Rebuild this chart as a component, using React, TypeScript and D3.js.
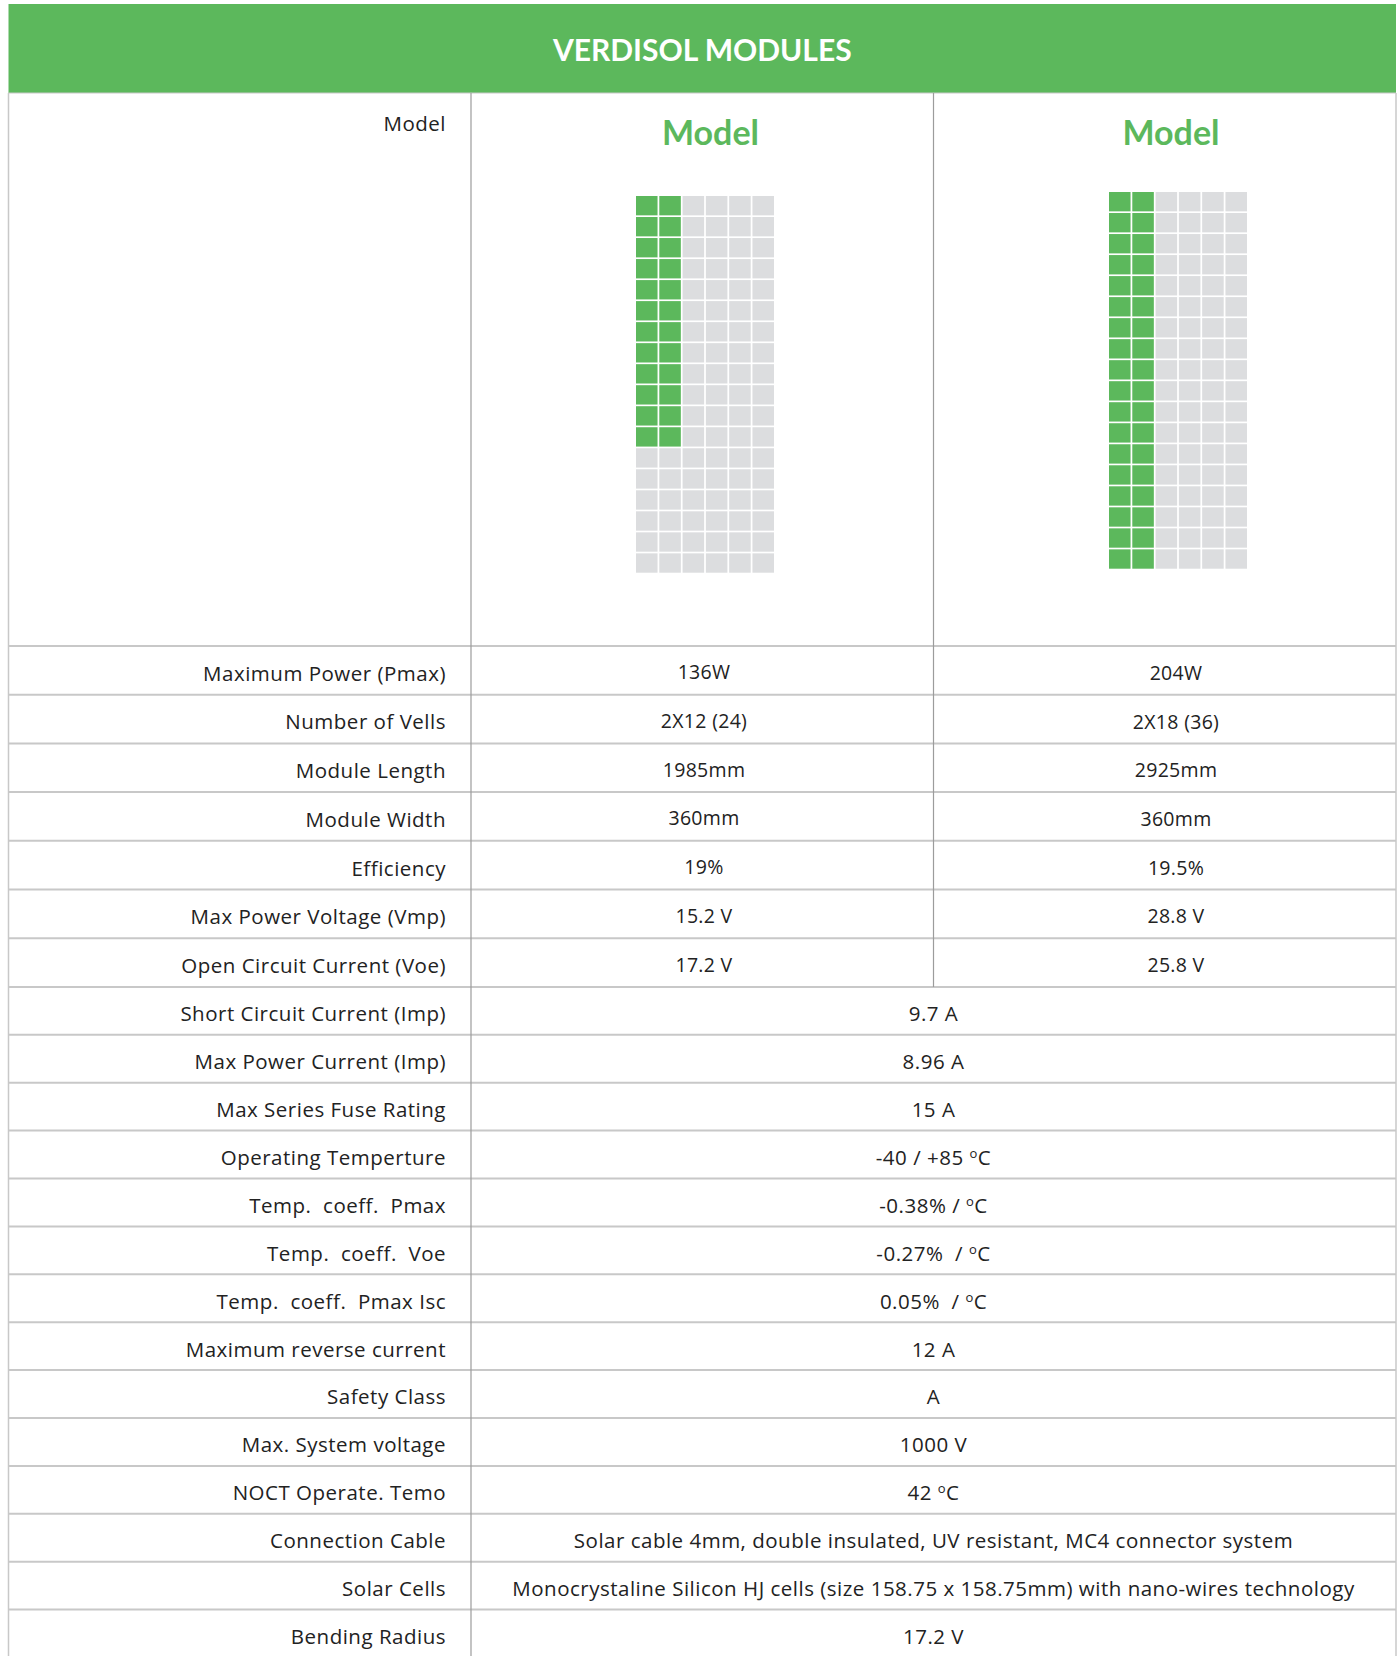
import React from "react";
import * as d3 from "d3";

const title = "VERDISOL MODULES";
const modelNames = ["Model", "Model"];
// cells per module: 2 active columns out of 6, rows lit per model
const gridCols = 6;
const gridRows = 18;
const activeCols = 2;
const activeRows = [12, 18];

const splitLabels = [
  "Maximum Power (Pmax)",
  "Number of Vells",
  "Module Length",
  "Module Width",
  "Efficiency",
  "Max Power Voltage (Vmp)",
  "Open Circuit Current (Voe)",
];
const modelAValues = ["136W", "2X12 (24)", "1985mm", "360mm", "19%", "15.2 V", "17.2 V"];
const modelBValues = ["204W", "2X18 (36)", "2925mm", "360mm", "19.5%", "28.8 V", "25.8 V"];

const sharedLabels = [
  "Short Circuit Current (Imp)",
  "Max Power Current (Imp)",
  "Max Series Fuse Rating",
  "Operating Temperture",
  "Temp.  coeff.  Pmax",
  "Temp.  coeff.  Voe",
  "Temp.  coeff.  Pmax Isc",
  "Maximum reverse current",
  "Safety Class",
  "Max. System voltage",
  "NOCT Operate. Temo",
  "Connection Cable",
  "Solar Cells",
  "Bending Radius",
];
const sharedValues = [
  "9.7 A",
  "8.96 A",
  "15 A",
  "-40 / +85 °C",
  "-0.38% / °C",
  "-0.27%  / °C",
  "0.05%  / °C",
  "12 A",
  "A",
  "1000 V",
  "42 °C",
  "Solar cable 4mm, double insulated, UV resistant, MC4 connector system",
  "Monocrystaline Silicon HJ cells (size 158.75 x 158.75mm) with nano-wires technology",
  "17.2 V",
];

const W = 1400;
const H = 1656;
const GREEN = "#5cb85c";
const GREY_CELL = "#dcdddf";
const H_LINE = "#c8c8c8";
const V_LINE = "#9c9c9c";
const FONT = "'Open Sans', Lato, sans-serif";

// renders "°C" with a small raised o like the original
const Degree = ({ text }: { text: string }) => {
  const parts = text.split("°");
  return (
    <>
      {parts.map((p, i) => (
        <React.Fragment key={i}>
          {i > 0 && (
            <tspan fontSize="13" dy="-7">
              o
            </tspan>
          )}
          <tspan dy={i > 0 ? 7 : undefined}>{p}</tspan>
        </React.Fragment>
      ))}
    </>
  );
};

const App = () => {
  const col = d3.scaleLinear().domain([0, 3]).range([8.5, 1396]);
  const headerTop = 4;
  const headerBottom = 93;
  const tableTop = 646;
  const splitEnd = tableTop + splitLabels.length * 48.7;
  const rowA = d3.scaleBand<string>().domain(splitLabels).range([tableTop, splitEnd]);
  const rowB = d3
    .scaleBand<string>()
    .domain(sharedLabels)
    .range([splitEnd, splitEnd + sharedLabels.length * 47.9]);
  const rowMid = (l: string) =>
    rowA(l) !== undefined ? rowA(l)! + rowA.bandwidth() / 2 : rowB(l)! + rowB.bandwidth() / 2;
  const allLabels = [...splitLabels, ...sharedLabels];

  // module grid placement (one per model column)
  const gridBoxes = [
    { x0: 636, x1: 774, y0: 196, y1: 572.7, hx: 710.5 },
    { x0: 1109, x1: 1247, y0: 192, y1: 568.7, hx: 1171 },
  ];

  const rules = [
    tableTop,
    ...splitLabels.map((l) => rowA(l)! + rowA.bandwidth()),
    ...sharedLabels.map((l) => rowB(l)! + rowB.bandwidth()),
  ];

  return (
    <svg
      width={W}
      height={H}
      style={{ position: "absolute", left: 0, top: 0, background: "#fff" }}
      fontFamily={FONT}
    >
      {/* header */}
      <rect x={col(0)} y={headerTop} width={col(3) - col(0)} height={headerBottom - headerTop} fill={GREEN} />
      <text
        x={(col(0) + col(3)) / 2}
        y={(headerTop + headerBottom) / 2 + 2}
        dy="0.36em"
        textAnchor="middle"
        fill="#fff"
        fontWeight="bold"
        fontSize="30"
        fontFamily="Lato, sans-serif"
      >
        {title}
      </text>

      {/* model row */}
      <text x={446} y={123.5} dy="0.36em" textAnchor="end" fontSize="20.5" letterSpacing="0.5" fill="#222">
        Model
      </text>
      {gridBoxes.map((b, m) => {
        const cx = d3.scaleBand<number>().domain(d3.range(gridCols)).range([b.x0, b.x1]).paddingInner(0.075);
        const cy = d3.scaleBand<number>().domain(d3.range(gridRows)).range([b.y0, b.y1]).paddingInner(0.08);
        const cells = d3.cross(d3.range(gridCols), d3.range(gridRows));
        return (
          <g key={m}>
            <text
              x={b.hx}
              y={133}
              dy="0.36em"
              textAnchor="middle"
              fill={GREEN}
              fontWeight="bold"
              fontSize="34"
              fontFamily="Lato, sans-serif"
            >
              {modelNames[m]}
            </text>
            {cells.map(([c, r]) => (
              <rect
                key={`${c}-${r}`}
                x={cx(c)}
                y={cy(r)}
                width={cx.bandwidth()}
                height={cy.bandwidth()}
                fill={c < activeCols && r < activeRows[m] ? GREEN : GREY_CELL}
              />
            ))}
          </g>
        );
      })}

      {/* horizontal rules */}
      {rules.map((y, i) => (
        <line key={i} x1={col(0)} x2={col(3)} y1={y} y2={y} stroke={H_LINE} strokeWidth={2} />
      ))}
      <line x1={col(0)} x2={col(3)} y1={headerBottom} y2={headerBottom} stroke={H_LINE} strokeWidth={1} />

      {/* vertical rules */}
      <line x1={col(0)} x2={col(0)} y1={headerBottom} y2={H} stroke={H_LINE} strokeWidth={1.5} />
      <line x1={col(1)} x2={col(1)} y1={headerBottom} y2={H} stroke={V_LINE} strokeWidth={1.2} />
      <line x1={col(2)} x2={col(2)} y1={headerBottom} y2={splitEnd} stroke={V_LINE} strokeWidth={1.2} />
      <line x1={col(3)} x2={col(3)} y1={headerBottom} y2={H} stroke={H_LINE} strokeWidth={1.5} />

      {/* labels */}
      {allLabels.map((l) => (
        <text
          key={l}
          x={446}
          y={rowMid(l) + 3}
          dy="0.36em"
          textAnchor="end"
          fontSize="20.5"
          letterSpacing="0.5"
          fill="#222"
          style={{ whiteSpace: "pre" }}
        >
          {l}
        </text>
      ))}

      {/* per-model values */}
      {splitLabels.map((l, i) => (
        <g key={l} fontSize="19.5" letterSpacing="0.3" fill="#222">
          <text x={704} y={rowMid(l) + 2} dy="0.36em" textAnchor="middle">
            {modelAValues[i]}
          </text>
          <text x={1176} y={rowMid(l) + 2.5} dy="0.36em" textAnchor="middle">
            {modelBValues[i]}
          </text>
        </g>
      ))}

      {/* shared values */}
      {sharedLabels.map((l, i) => (
        <text
          key={l}
          x={(col(1) + col(3)) / 2}
          y={rowMid(l) + 3}
          dy="0.36em"
          textAnchor="middle"
          fontSize="20.5"
          letterSpacing="0.5"
          fill="#222"
          style={{ whiteSpace: "pre" }}
        >
          <Degree text={sharedValues[i]} />
        </text>
      ))}
    </svg>
  );
};

export default App;
